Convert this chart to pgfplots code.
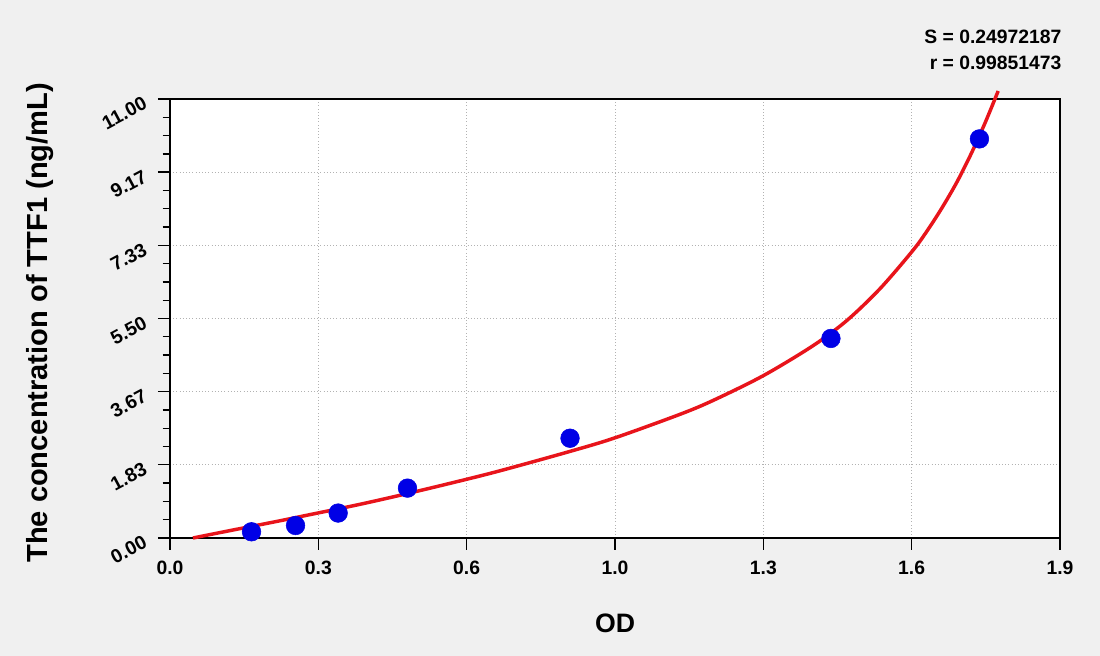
\documentclass[border=0pt]{standalone}
\usepackage{fontspec}
\setmainfont{Liberation Sans}
\usepackage{pgfplots}
\pgfplotsset{compat=1.18}
\definecolor{bg}{HTML}{F0F0F0}
\definecolor{fitred}{HTML}{E8141B}
\definecolor{ptblue}{HTML}{0000E6}
\begin{document}
\begin{tikzpicture}
\useasboundingbox (0,0) rectangle (825pt,492pt);
\fill[bg] (0,0) rectangle (825pt,492pt);
\begin{axis}[%
	at={(127.5pt,88.5pt)}, anchor=south west,%
	scale only axis,%
	width=667.5pt, height=329.25pt,%
	xmin=0, xmax=1.9, ymin=0, ymax=11,%
	axis background/.style={fill=white},%
	axis line style={black, line width=1.2pt},%
	xtick={0,0.316667,0.633333,0.95,1.266667,1.583333,1.9},%
	xticklabels={0.0,0.3,0.6,1.0,1.3,1.6,1.9},%
	ytick={0,1.833333,3.666667,5.5,7.333333,9.166667,11},%
	yticklabels={0.00,1.83,3.67,5.50,7.33,9.17,11.00},%
	minor tick num=3,%
	tick align=outside,%
	xtick pos=bottom, ytick pos=left,%
	major tick length=9pt, minor tick length=5.5pt,%
	every tick/.style={black, line width=1pt},%
	grid=major,%
	major grid style={dotted, gray!60, line width=0.7pt},%
	/pgf/number format/assume math mode=true,%
	ticklabel style={font=\fontsize{14.5}{17}\selectfont\bfseries},%
	xticklabel style={yshift=-4.5pt},%
	yticklabel style={rotate=28, anchor=east, xshift=-6pt, yshift=2.5pt},%
	xlabel={OD},%
	ylabel={The concentration of TTF1 (ng/mL)},%
	xlabel style={at={(axis description cs:0.5,-0.194)}, anchor=center,%
		font=\fontsize{20}{24}\selectfont\bfseries},%
	ylabel style={at={(axis description cs:-0.146,0.49)}, anchor=center,%
		font=\fontsize{21.8}{26}\selectfont\bfseries},%
	clip=false,%
	]
	% standards
	\addplot[only marks, mark=*, mark size=7pt,
		mark options={fill=ptblue, draw=ptblue}]
		coordinates{
			(0.174,0.156)
			(0.268,0.313)
			(0.359,0.625)
			(0.507,1.25)
			(0.854,2.5)
			(1.411,5)
			(1.728,10)
	};
	% fitted curve
	\addplot[fitred, line width=2.6pt, smooth, no marks]
		coordinates{
			(0.049,0.0)
			(0.100,0.12)
			(0.156,0.25)
			(0.230,0.42)
			(0.313,0.62)
			(0.400,0.83)
			(0.491,1.07)
			(0.598,1.37)
			(0.700,1.67)
			(0.854,2.17)
			(0.950,2.51)
			(1.089,3.10)
			(1.160,3.45)
			(1.267,4.07)
			(1.373,4.82)
			(1.445,5.45)
			(1.516,6.25)
			(1.587,7.22)
			(1.620,7.76)
			(1.650,8.31)
			(1.680,8.92)
			(1.710,9.62)
			(1.740,10.40)
			(1.768,11.20)
	};
	\node[anchor=east, inner sep=0pt, font=\fontsize{14.5}{17}\selectfont\bfseries]
		at (axis description cs:1.002,1.141) {S = 0.24972187};
	\node[anchor=east, inner sep=0pt, font=\fontsize{14.5}{17}\selectfont\bfseries]
		at (axis description cs:1.002,1.082) {r = 0.99851473};
\end{axis}
\end{tikzpicture}
\end{document}
